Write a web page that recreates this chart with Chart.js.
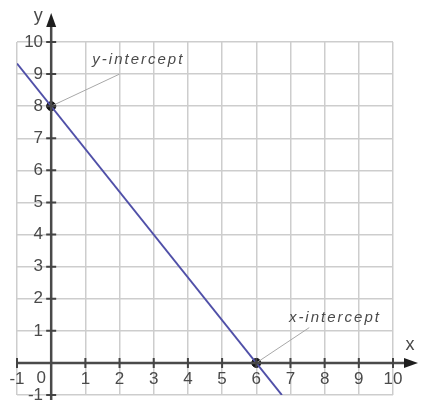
<!DOCTYPE html>
<html>
<head>
<meta charset="utf-8">
<script src="https://cdn.jsdelivr.net/npm/chart.js@4"></script>
<style>
  body { margin: 0; background: #fff; }
  canvas { display: block; }
</style>
</head>
<body>
<canvas id="myChart" width="422" height="400"></canvas>
<script>
// line y = 8 - 4/3 x at its two ends
var lineX = [-1, 6.75];
var lineY = [9.33, -1];

// intercept points
var pointX = [0, 6];
var pointY = [8, 0];

// callout labels and where their leader lines end
var calloutText = ["y-intercept", "x-intercept"];
var calloutX = [2.55, 8.3];
var calloutY = [9.43, 1.39];
var leaderX = [2, 7.55];
var leaderY = [9, 1.1];

var axisMin = -1;
var axisMax = 10;

function toXY(xs, ys) {
    var out = [];
    for (let i = 0; i < xs.length; i++) {
        out.push({ x: xs[i], y: ys[i] });
    }
    return out;
}

var font = "'Liberation Sans', Arial, sans-serif";
var tickColor = "#4a4a4a";

// axes through origin with arrows, tick marks, axis names and the callouts
var axesPlugin = {
    id: "axesPlugin",
    afterDraw: function (chart) {
        var ctx = chart.ctx;
        var sx = chart.scales.x;
        var sy = chart.scales.y;
        var ox = sx.getPixelForValue(0);
        var oy = sy.getPixelForValue(0);
        var area = chart.chartArea;

        ctx.save();
        // leader lines
        ctx.strokeStyle = "#a8a8a8";
        ctx.lineWidth = 1;
        for (let i = 0; i < calloutText.length; i++) {
            ctx.beginPath();
            ctx.moveTo(sx.getPixelForValue(pointX[i]), sy.getPixelForValue(pointY[i]));
            ctx.lineTo(sx.getPixelForValue(leaderX[i]), sy.getPixelForValue(leaderY[i]));
            ctx.stroke();
        }

        // axes
        ctx.strokeStyle = "#4a4a4a";
        ctx.fillStyle = "#1e1e1e";
        ctx.lineWidth = 2.5;
        ctx.beginPath();
        ctx.moveTo(area.left, oy);
        ctx.lineTo(area.right + 14, oy);
        ctx.moveTo(ox, chart.height);
        ctx.lineTo(ox, area.top - 18);
        ctx.stroke();

        // arrow heads
        ctx.beginPath();
        ctx.moveTo(area.right + 25, oy);
        ctx.lineTo(area.right + 11, oy - 5);
        ctx.lineTo(area.right + 11, oy + 5);
        ctx.closePath();
        ctx.fill();
        ctx.beginPath();
        ctx.moveTo(ox, area.top - 29);
        ctx.lineTo(ox - 5, area.top - 15);
        ctx.lineTo(ox + 5, area.top - 15);
        ctx.closePath();
        ctx.fill();

        // tick marks crossing the axes
        ctx.lineWidth = 2;
        ctx.strokeStyle = "#444";
        ctx.beginPath();
        for (let v = axisMin; v <= axisMax; v++) {
            if (v === 0) continue;
            var px = sx.getPixelForValue(v);
            ctx.moveTo(px, oy - 5);
            ctx.lineTo(px, oy + 5);
            var py = sy.getPixelForValue(v);
            ctx.moveTo(ox - 5, py);
            ctx.lineTo(ox + 5, py);
        }
        ctx.stroke();

        // origin label and axis names
        ctx.fillStyle = tickColor;
        ctx.font = "17px " + font;
        ctx.textAlign = "center";
        ctx.textBaseline = "middle";
        ctx.fillText("0", ox - 10, oy + 15);
        ctx.font = "18px " + font;
        ctx.fillText("y", ox - 13, area.top - 26);
        ctx.fillText("x", area.right + 17, oy - 18);

        // callout texts
        ctx.fillStyle = "#4a4a4a";
        ctx.font = "italic 15px " + font;
        ctx.letterSpacing = "2px";
        for (let i = 0; i < calloutText.length; i++) {
            ctx.fillText(calloutText[i], sx.getPixelForValue(calloutX[i]), sy.getPixelForValue(calloutY[i]));
        }
        ctx.restore();
    },
};

var data = {
    datasets: [
        {
            label: "line",
            data: toXY(lineX, lineY),
            showLine: true,
            borderColor: "#5050a8",
            borderWidth: 2,
            pointRadius: 0,
        },
        {
            label: "intercepts",
            data: toXY(pointX, pointY),
            backgroundColor: "#111",
            borderColor: "#111",
            pointRadius: 4.5,
        },
    ],
};

// axes sit inside the plot, so they take no room in the layout
function zeroWidth(scale) {
    if (scale.isHorizontal()) {
        scale.height = 0;
    } else {
        scale.width = 0;
    }
    scale.paddingTop = 0;
    scale.paddingBottom = 0;
    scale.paddingLeft = 0;
    scale.paddingRight = 0;
}

var config = {
    type: "scatter",
    data: data,
    options: {
        responsive: false,
        animation: false,
        layout: {
            autoPadding: false,
            padding: { left: 17, right: 29, top: 42, bottom: 5 },
        },
        plugins: {
            legend: { display: false },
            tooltip: { enabled: false },
        },
        scales: {
            x: {
                type: "linear",
                position: { y: 0 },
                min: axisMin,
                max: axisMax,
                afterFit: zeroWidth,
                border: { display: false },
                grid: { color: "#cdcdcd", lineWidth: 1.5, drawTicks: false },
                ticks: {
                    stepSize: 1,
                    padding: 6,
                    color: tickColor,
                    font: { family: font, size: 17 },
                    callback: function (value) {
                        return value === 0 ? "" : value;
                    },
                },
            },
            y: {
                type: "linear",
                position: { x: 0 },
                min: axisMin,
                max: axisMax,
                afterFit: zeroWidth,
                border: { display: false },
                grid: { color: "#cdcdcd", lineWidth: 1.5, drawTicks: false },
                ticks: {
                    stepSize: 1,
                    padding: 8,
                    color: tickColor,
                    font: { family: font, size: 17 },
                    callback: function (value) {
                        // trailing gap keeps the label clear of the axis
                        return value === 0 ? "" : value + " \u2009";
                    },
                },
            },
        },
    },
    plugins: [axesPlugin],
};

var ctx = document.getElementById("myChart").getContext("2d");
var myChart = new Chart(ctx, config);
</script>
</body>
</html>
